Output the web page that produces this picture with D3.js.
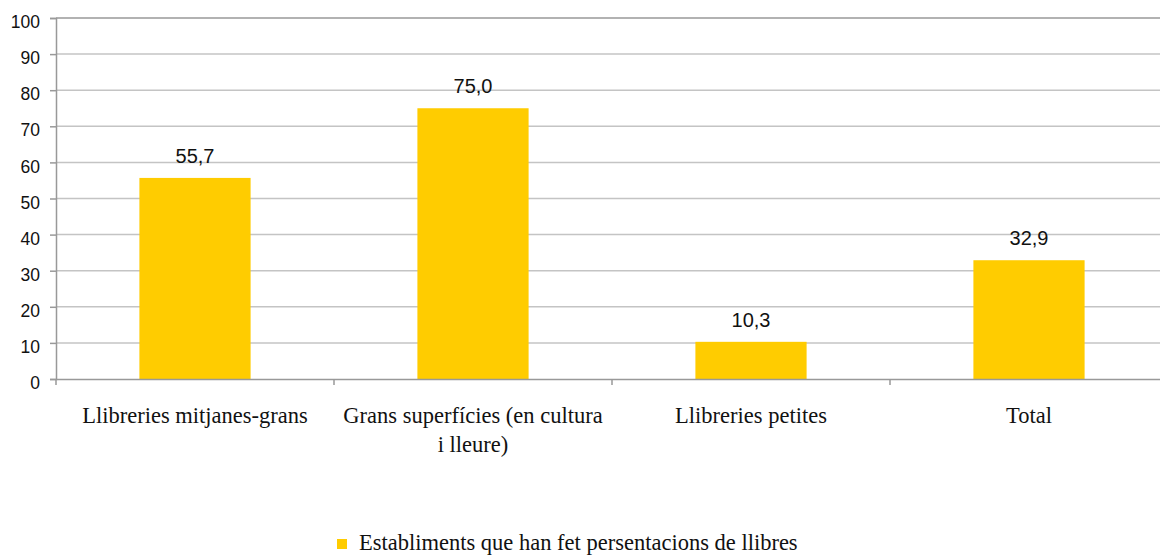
<!DOCTYPE html>
<html>
<head>
<meta charset="utf-8">
<script src="https://cdn.jsdelivr.net/npm/d3@7"></script>
<style>
  html, body { margin: 0; padding: 0; background: #fff; }
  svg { display: block; }
  .serif { font-family: "Liberation Serif", "DejaVu Serif", "Times New Roman", serif; }
  .sans { font-family: "Liberation Sans", Arial, sans-serif; }
</style>
</head>
<body>
<svg id="chart" width="1160" height="560"></svg>
<script>
// Data
const categories = [
  "Llibreries mitjanes-grans",
  "Grans superfícies (en cultura i lleure)",
  "Llibreries petites",
  "Total"
];
const values = [55.7, 75.0, 10.3, 32.9];
const yTicks = [0, 10, 20, 30, 40, 50, 60, 70, 80, 90, 100];
const seriesName = "Establiments que han fet persentacions de llibres";

const svg = d3.select("#chart");
const W = 1160, H = 560;
// plot area runs slightly past the right edge of the page
const margin = { left: 56, top: 18, bottom: 181 };
const plotW = 1112;
const plotH = H - margin.top - margin.bottom;

const x = d3.scaleBand().domain(categories).range([0, plotW]).padding(0);
const y = d3.scaleLinear().domain([0, 100]).range([plotH, 0]);

const g = svg.append("g").attr("transform", `translate(${margin.left},${margin.top})`);

// Gridlines
g.append("g")
  .selectAll("line")
  .data(yTicks.filter(t => t > 0 && t < 100))
  .join("line")
  .attr("x1", 0).attr("x2", plotW)
  .attr("y1", d => y(d)).attr("y2", d => y(d))
  .attr("stroke", "#c4c4c4").attr("stroke-width", 1.5);

// Top border
g.append("line")
  .attr("x1", 0).attr("x2", plotW)
  .attr("y1", y(100)).attr("y2", y(100))
  .attr("stroke", "#999").attr("stroke-width", 1.5);

// Bars
const barW = x.bandwidth() * 0.4;
g.append("g")
  .selectAll("rect")
  .data(values)
  .join("rect")
  .attr("x", (d, i) => x(categories[i]) + (x.bandwidth() - barW) / 2)
  .attr("y", d => y(d))
  .attr("width", barW)
  .attr("height", d => plotH - y(d))
  .attr("fill", "#FFCC00");

// Value labels
g.append("g")
  .selectAll("text")
  .data(values)
  .join("text")
  .attr("class", "sans")
  .attr("x", (d, i) => x(categories[i]) + x.bandwidth() / 2)
  .attr("y", d => y(d) - 15)
  .attr("text-anchor", "middle")
  .attr("font-size", 20)
  .attr("fill", "#111")
  .text(d => d.toFixed(1).replace(".", ","));

// Y axis
const yAxis = d3.axisLeft(y).tickValues(yTicks).tickSize(6).tickPadding(10);
const ya = g.append("g").call(yAxis);
ya.attr("font-family", null).attr("font-size", null);
ya.select(".domain").attr("stroke", "#999").attr("stroke-width", 1.5);
ya.selectAll(".tick line").attr("stroke", "#999").attr("stroke-width", 1.5);
ya.selectAll(".tick text")
  .attr("class", "sans")
  .attr("font-size", 17.5)
  .attr("y", 4)
  .attr("fill", "#111");

// X axis
const xAxis = d3.axisBottom(x).tickSize(0).tickFormat("");
const xa = g.append("g").attr("transform", `translate(0,${plotH})`).call(xAxis);
xa.select(".domain").attr("stroke", "#999").attr("stroke-width", 1.5);
// category boundary ticks
xa.append("g")
  .selectAll("line")
  .data(categories)
  .join("line")
  .attr("x1", d => x(d)).attr("x2", d => x(d))
  .attr("y1", 0).attr("y2", 6)
  .attr("stroke", "#999").attr("stroke-width", 1.5);

// Category labels (wrapped)
const catLines = [
  ["Llibreries mitjanes-grans"],
  ["Grans superfícies (en cultura", "i lleure)"],
  ["Llibreries petites"],
  ["Total"]
];
const cl = g.append("g");
categories.forEach((c, i) => {
  const t = cl.append("text")
    .attr("class", "serif")
    .attr("x", x(c) + x.bandwidth() / 2)
    .attr("y", plotH + 44)
    .attr("text-anchor", "middle")
    .attr("font-size", 22.5)
    .attr("fill", "#111");
  catLines[i].forEach((ln, k) => {
    t.append("tspan")
      .attr("x", x(c) + x.bandwidth() / 2)
      .attr("dy", k === 0 ? 0 : 29)
      .text(ln);
  });
});

// Legend
const lg = svg.append("g").attr("transform", "translate(337,550)");
lg.append("rect").attr("x", 0).attr("y", -11).attr("width", 10).attr("height", 10).attr("fill", "#FFCC00");
lg.append("text")
  .attr("class", "serif")
  .attr("x", 22).attr("y", 0)
  .attr("font-size", 22.5)
  .attr("fill", "#111")
  .text(seriesName);
</script>
</body>
</html>
